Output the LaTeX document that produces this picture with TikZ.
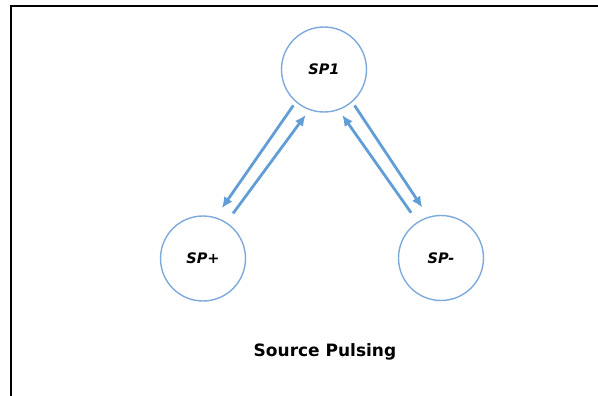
\documentclass[tikz,border=0pt]{standalone}
\usepackage{fontspec}
\setsansfont{DejaVu Sans}
\usetikzlibrary{arrows.meta,positioning}
\definecolor{circblue}{RGB}{125,170,220}
\definecolor{arrblue}{RGB}{98,158,214}

\begin{document}
\begin{tikzpicture}[x=1pt,y=-1pt]
	\tikzstyle{state}=[draw=circblue, circle, line width=1.4pt, minimum size=85pt, inner sep=0pt, font=\sffamily\bfseries\itshape\fontsize{14.5}{16}\selectfont]
	\tikzstyle{trans}=[draw=arrblue, line width=2.8pt, -{Latex[length=11pt,width=10pt]}]
	
	\useasboundingbox (0,0) rectangle (598,396);
	\draw[line width=2pt] (11,396) -- (11,6) -- (598,6);
	
	\node[state] (sp1) at (324,69.5) {SP1};
	\node[state] (spplus) at (203,258.5) {SP+};
	\node[state] (spminus) at (441,258) {SP-};
	\node[font=\sffamily\bfseries\fontsize{17}{19}\selectfont] (title) at (325,352) {Source Pulsing};
	
	\draw[trans, shorten <=4pt, shorten >=11pt] (sp1.229) -- (spplus.73);
	\draw[trans, shorten <=11pt, shorten >=6pt] (spplus.57) -- (sp1.250);
	\draw[trans, shorten <=11pt, shorten >=6pt] (spminus.123) -- (sp1.290);
	\draw[trans, shorten <=4pt, shorten >=11pt] (sp1.311) -- (spminus.107);
\end{tikzpicture}
\end{document}
